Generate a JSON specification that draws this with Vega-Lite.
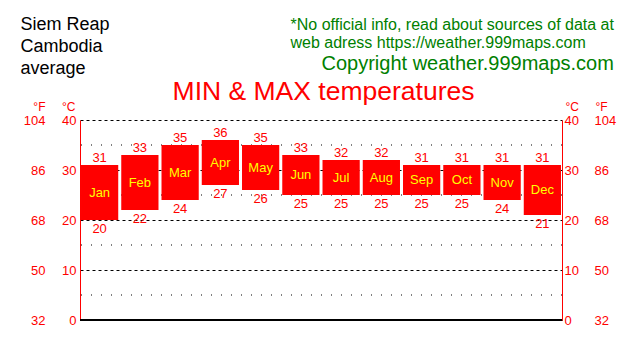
{
  "$schema": "https://vega.github.io/schema/vega-lite/v6.json",
  "width": 482,
  "height": 200,
  "autosize": "none",
  "padding": {"left": 80, "top": 120, "right": 78, "bottom": 40},
  "background": "white",
  "config": {
    "font": "Liberation Sans",
    "view": {"stroke": null},
    "axis": {
      "titleFontWeight": "normal",
      "labelFontSize": 13,
      "titleFontSize": 12,
      "labelColor": "#ff0000",
      "titleColor": "#ff0000",
      "ticks": false,
      "tickSize": 0,
      "grid": false,
      "titleAngle": 0,
      "titleBaseline": "alphabetic"
    }
  },
  "data": {
    "values": [
      {"month": "Jan", "min": 20, "max": 31},
      {"month": "Feb", "min": 22, "max": 33},
      {"month": "Mar", "min": 24, "max": 35},
      {"month": "Apr", "min": 27, "max": 36},
      {"month": "May", "min": 26, "max": 35},
      {"month": "Jun", "min": 25, "max": 33},
      {"month": "Jul", "min": 25, "max": 32},
      {"month": "Aug", "min": 25, "max": 32},
      {"month": "Sep", "min": 25, "max": 31},
      {"month": "Oct", "min": 25, "max": 31},
      {"month": "Nov", "min": 24, "max": 31},
      {"month": "Dec", "min": 21, "max": 31}
    ]
  },
  "resolve": {"axis": {"x": "independent", "y": "independent"}},
  "layer": [
    {
      "data": {"values": [{"level": 5}, {"level": 15}, {"level": 25}, {"level": 35}]},
      "mark": {"type": "rule", "color": "black", "strokeDash": [1, 9], "strokeWidth": 1},
      "encoding": {
        "y": {"field": "level", "type": "quantitative", "scale": {"domain": [0, 40]}, "axis": null}
      }
    },
    {
      "mark": {"type": "bar", "color": "#ff0000"},
      "encoding": {
        "x": {
          "field": "month", "type": "nominal",
          "scale": {"domain": ["Jan","Feb","Mar","Apr","May","Jun","Jul","Aug","Sep","Oct","Nov","Dec"], "paddingInner": 0.075, "paddingOuter": 0.025},
          "axis": {
            "orient": "bottom", "labels": false, "domain": true, "domainColor": "black", "domainWidth": 1,
            "title": "Copyright weather.999maps.com", "titleColor": "#008000", "titleFontSize": 20,
            "titleX": 241, "titleY": -251, "titleAlign": "left"
          }
        },
        "y": {
          "field": "min", "type": "quantitative", "scale": {"domain": [0, 40]},
          "axis": {
            "orient": "left", "values": [0, 10, 20, 30, 40], "domain": true, "domainColor": "#ff0000",
            "labelPadding": 4, "grid": true, "gridColor": "black", "gridDash": [3, 3], "gridOpacity": 1,
            "title": "°C", "titleX": -5, "titleY": -10, "titleAlign": "right"
          }
        },
        "y2": {"field": "max"}
      }
    },
    {
      "mark": {"type": "rule", "color": "black", "strokeWidth": 1},
      "encoding": {
        "y": {"datum": 0, "type": "quantitative", "axis": null}
      }
    },
    {
      "mark": {"type": "text", "color": "#ff0000", "fontSize": 13, "baseline": "alphabetic", "dy": -3},
      "encoding": {
        "x": {
          "field": "month", "type": "nominal",
          "axis": {
            "orient": "bottom", "labels": false, "domain": false,
            "title": ["Siem Reap", "Cambodia", "average"], "titleColor": "black", "titleFontSize": 18,
            "titleLineHeight": 22, "titleX": -60, "titleY": -291, "titleAlign": "left"
          }
        },
        "y": {
          "field": "max", "type": "quantitative",
          "axis": {
            "orient": "left", "offset": 31, "values": [0, 10, 20, 30, 40], "domain": false,
            "labelPadding": 4, "labelExpr": "datum.value * 1.8 + 32",
            "title": "°F", "titleX": -4, "titleY": -10, "titleAlign": "right"
          }
        },
        "text": {"field": "max", "type": "quantitative"}
      }
    },
    {
      "mark": {"type": "text", "color": "#ff0000", "fontSize": 13, "baseline": "alphabetic", "dy": 13},
      "encoding": {
        "x": {
          "field": "month", "type": "nominal",
          "axis": {
            "orient": "bottom", "labels": false, "domain": false,
            "title": ["*No official info, read about sources of data at", "web adress https://weather.999maps.com"],
            "titleColor": "#008000", "titleFontSize": 16, "titleLineHeight": 18,
            "titleX": 210, "titleY": -291, "titleAlign": "left"
          }
        },
        "y": {
          "field": "min", "type": "quantitative",
          "axis": {
            "orient": "right", "values": [0, 10, 20, 30, 40], "domain": true, "domainColor": "#ff0000",
            "labelPadding": 2,
            "title": "°C", "titleX": 3, "titleY": -10, "titleAlign": "left"
          }
        },
        "text": {"field": "min", "type": "quantitative"}
      }
    },
    {
      "transform": [{"fold": ["min", "max"], "as": ["kind", "temp"]}],
      "mark": {"type": "text", "color": "#ffff00", "fontSize": 13, "baseline": "middle"},
      "encoding": {
        "x": {
          "field": "month", "type": "nominal",
          "axis": {
            "orient": "bottom", "labels": false, "domain": false,
            "title": "MIN & MAX temperatures", "titleColor": "#ff0000", "titleFontSize": 26.5,
            "titleX": 243, "titleY": -221, "titleAlign": "center"
          }
        },
        "y": {
          "aggregate": "mean", "field": "temp", "type": "quantitative",
          "axis": {
            "orient": "right", "offset": 30, "values": [0, 10, 20, 30, 40], "domain": false,
            "labelPadding": 2, "labelExpr": "datum.value * 1.8 + 32",
            "title": "°F", "titleX": 3, "titleY": -10, "titleAlign": "left"
          }
        },
        "text": {"field": "month", "type": "nominal"}
      }
    }
  ]
}
